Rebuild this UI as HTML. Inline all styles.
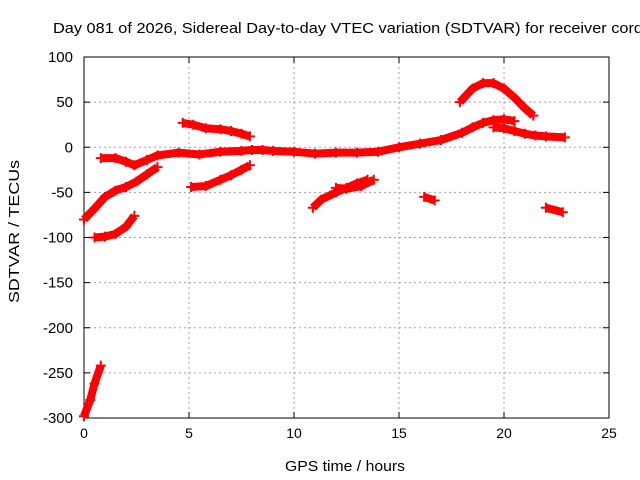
<!DOCTYPE html>
<html><head><meta charset="utf-8"><style>
body{margin:0;background:#fff;}
svg{display:block;font-family:"Liberation Sans",sans-serif;}
</style></head><body>
<svg id="chart" width="640" height="480">
<text x="53" y="33" font-size="15" textLength="590" lengthAdjust="spacingAndGlyphs">Day 081 of 2026, Sidereal Day-to-day VTEC variation (SDTVAR) for receiver cord</text>
<text x="285" y="471" font-size="15" textLength="120" lengthAdjust="spacingAndGlyphs">GPS time / hours</text>
<text x="19" y="303" font-size="15" textLength="143" lengthAdjust="spacingAndGlyphs" transform="rotate(-90 19 303)">SDTVAR / TECUs</text>
<g id="grid"></g><g id="axes"></g><g id="marks"></g>
</svg>
<script>
const xTicks=[0,5,10,15,20,25];
const yTicks=[100,50,0,-50,-100,-150,-200,-250,-300];
const segA=[[0,-80],[0.5,-68],[1,-55],[1.5,-48],[2,-44],[2.5,-38],[3,-30],[3.5,-22]];
const segB=[[0.5,-100],[1,-99],[1.5,-96],[2,-88],[2.4,-76]];
const segC=[[0,-298],[0.3,-280],[0.5,-262],[0.8,-242]];
const segD=[[0.8,-12],[1.5,-12],[2,-16],[2.4,-20],[3,-14],[3.5,-9],[4.5,-6],[5.5,-8],[6.5,-5],[7.5,-4],[8,-3],[8.5,-3],[9,-4],[10,-5],[11,-7],[12,-6],[13,-6],[14,-5],[15,0],[16,4],[17,8],[18,16],[18.5,22],[19,27],[19.5,30],[20,31],[20.5,29]];
const segE=[[19.5,22],[20,21],[20.5,18],[21,15],[21.5,13],[22,12],[22.9,11]];
const segF=[[17.9,50],[18.5,65],[19,71],[19.5,71],[20,65],[20.5,55],[21,43],[21.4,35]];
const segG=[[4.7,27],[5.2,25],[5.8,21],[6.5,20],[7,18],[7.5,15],[7.9,12]];
const segH=[[5.1,-44],[5.8,-43],[6.5,-36],[7,-31],[7.5,-25],[7.9,-20]];
const segI=[[10.9,-67],[11.3,-58],[12,-50],[12.5,-45],[13,-40],[13.5,-36]];
const segI2=[[12,-45],[12.5,-46],[13.2,-43],[13.8,-36]];
const segJ=[[16.2,-55],[16.7,-59]];
const segK=[[22,-67],[22.8,-72]];
const segments=[segA,segB,segC,segD,segE,segF,segG,segH,segI,segI2,segJ,segK];
const L=84,R=609,T=57,B=418;
const X=v=>L+(v-0)/25*(R-L);
const Y=v=>B-(v+300)/400*(B-T);
const NS="http://www.w3.org/2000/svg";
function mk(tag,parent,attrs){const e=document.createElementNS(NS,tag);for(const k in attrs)e.setAttribute(k,attrs[k]);parent.appendChild(e);return e;}
const grid=document.getElementById('grid'),axes=document.getElementById('axes'),marks=document.getElementById('marks');
xTicks.forEach(t=>{
  if(t>0&&t<25){const g=mk('line',grid,{x1:X(t),x2:X(t),y1:T,y2:B,stroke:'#a0a0a0','stroke-dasharray':'2,3'});
  
  }
  mk('line',axes,{x1:X(t),x2:X(t),y1:B,y2:B-6,stroke:'#000'});
  mk('line',axes,{x1:X(t),x2:X(t),y1:T,y2:T+6,stroke:'#000'});
  const tx=mk('text',axes,{x:X(t),y:B+20,'font-size':14,'text-anchor':'middle'});tx.textContent=t;
  
  
});
yTicks.forEach(t=>{
  if(t<100&&t>-300){const g=mk('line',grid,{x1:L,x2:R,y1:Y(t),y2:Y(t),stroke:'#a0a0a0','stroke-dasharray':'2,3'});
  
  }
  mk('line',axes,{x1:L,x2:L+6,y1:Y(t),y2:Y(t),stroke:'#000'});
  mk('line',axes,{x1:R,x2:R-6,y1:Y(t),y2:Y(t),stroke:'#000'});
  const tx=mk('text',axes,{x:L-11,y:Y(t)+5,'font-size':15,'text-anchor':'end'});tx.textContent=t;
  
  
});
const fr=mk('rect',axes,{x:L,y:T,width:R-L,height:B-T,fill:'none',stroke:'#000'});


segments.forEach(s=>{
  const p=mk('polyline',marks,{points:s.map(d=>X(d[0])+','+Y(d[1])).join(' '),fill:'none',stroke:'#f00','stroke-width':8,'stroke-linejoin':'round'});
  
  
  s.forEach(d=>{
    const m=mk('path',marks,{d:`M${X(d[0])-5},${Y(d[1])}h10M${X(d[0])},${Y(d[1])-5}v10`,stroke:'#f00','stroke-width':2});
    
    
  });
});
</script>
</body></html>
